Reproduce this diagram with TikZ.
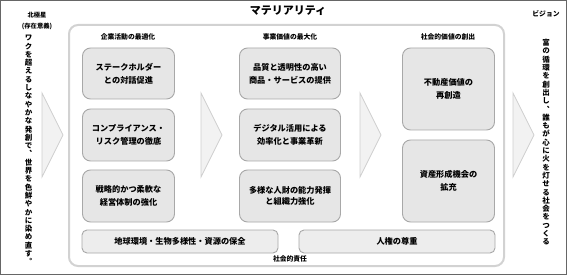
\documentclass[tikz,border=0pt]{standalone}
\usepackage{fontspec}
\setmainfont{Noto Sans CJK JP}
\newfontfamily\vfont{Noto Sans CJK JP}[RawFeature=+vert]
\definecolor{boxfill}{HTML}{E6E6E6}
\definecolor{boxline}{HTML}{A8A8A8}
\definecolor{frameline}{HTML}{D2D2D2}
\definecolor{arrowfill}{HTML}{F2F2F2}
\definecolor{arrowline}{HTML}{CFCFCF}
\definecolor{outerline}{HTML}{666666}
\tikzset{
  matbox/.style={draw=boxline, fill=boxfill, line width=0.9pt, rounded corners=8pt,
    align=center, inner sep=0pt, font=\bfseries\fontsize{8.2}{13}\selectfont},
  botbox/.style={draw=boxline, fill=boxfill!70!white, line width=0.9pt, rounded corners=5pt,
    align=center, inner sep=0pt, minimum width=196pt, minimum height=23pt,
    font=\bfseries\fontsize{8.2}{9}\selectfont},
  headtext/.style={font=\bfseries\fontsize{6.8}{8}\selectfont, inner sep=0pt},
  vtext/.style={align=center, inner sep=0pt, font=\vfont\bfseries\fontsize{7.5}{8.3}\selectfont},
  chev/.style={draw=arrowline, fill=arrowfill, line width=0.8pt, line join=miter}
}
\begin{document}
\begin{tikzpicture}[x=1pt,y=-1pt]
\useasboundingbox (0,0) rectangle (567,275);
\draw[outerline, line width=1pt] (0.5,0.5) rectangle (566.5,274.5);
% big frame
\draw[frameline, line width=2pt, fill=white, rounded corners=9pt] (69,25) rectangle (504,266);
% titles
\node[font=\bfseries\fontsize{11}{13}\selectfont, inner sep=0pt] (title) at (288,11) {マテリアリティ};
\node[headtext, align=center, font=\bfseries\fontsize{6.3}{10.5}\selectfont] (hokkyoku) at (37,21) {北極星\\(存在意義)};
\node[headtext] (vision) at (546,14) {ビジョン};
\node[headtext] (h1) at (128,37) {企業活動の最適化};
\node[headtext] (h2) at (290,37) {事業価値の最大化};
\node[headtext] (h3) at (448,37) {社会的価値の創出};
\node[headtext] (shakai) at (290,259) {社会的責任};
% chevrons
\foreach \x in {42,201,360,513} {
  \draw[chev] (\x,93) -- (\x+21,135) -- (\x,177) -- cycle;
}
% column 1
\node[matbox, minimum width=92pt, minimum height=51pt] (a1) at (128.5,73.5) {ステークホルダー\\との対話促進};
\node[matbox, minimum width=92pt, minimum height=52pt] (a2) at (128.5,135) {コンプライアンス・\\リスク管理の徹底};
\node[matbox, minimum width=92pt, minimum height=52pt] (a3) at (128.5,196) {戦略的かつ柔軟な\\経営体制の強化};
% column 2
\node[matbox, minimum width=101pt, minimum height=51pt] (b1) at (290,73.5) {品質と透明性の高い\\商品・サービスの提供};
\node[matbox, minimum width=101pt, minimum height=52pt] (b2) at (290,135) {デジタル活用による\\効率化と事業革新};
\node[matbox, minimum width=101pt, minimum height=52pt, font=\bfseries\fontsize{8.2}{10.5}\selectfont] (b3) at (290,196) {多様な人財の能力発揮\\と組織力強化};
% column 3
\node[matbox, minimum width=92pt, minimum height=82pt] (c1) at (448.5,89) {不動産価値の\\再創造};
\node[matbox, minimum width=92pt, minimum height=82pt] (c2) at (448.5,181) {資産形成機会の\\拡充};
% bottom
\node[botbox] (d1) at (180,241.5) {地球環境・生物多様性・資源の保全};
\node[botbox] (d2) at (397,241.5) {人権の尊重};
% vertical texts
\node[vtext, anchor=north] (left) at (28.5,35) {ワ\\ク\\を\\超\\え\\る\\し\\な\\や\\か\\な\\発\\創\\で\\、\\世\\界\\を\\色\\鮮\\や\\か\\に\\染\\め\\直\\す\\。};
\node[vtext, anchor=north] (right) at (546,39) {富\\の\\循\\環\\を\\創\\出\\し\\、\\誰\\も\\が\\心\\に\\火\\を\\灯\\せ\\る\\社\\会\\を\\つ\\く\\る};
\end{tikzpicture}
\end{document}
